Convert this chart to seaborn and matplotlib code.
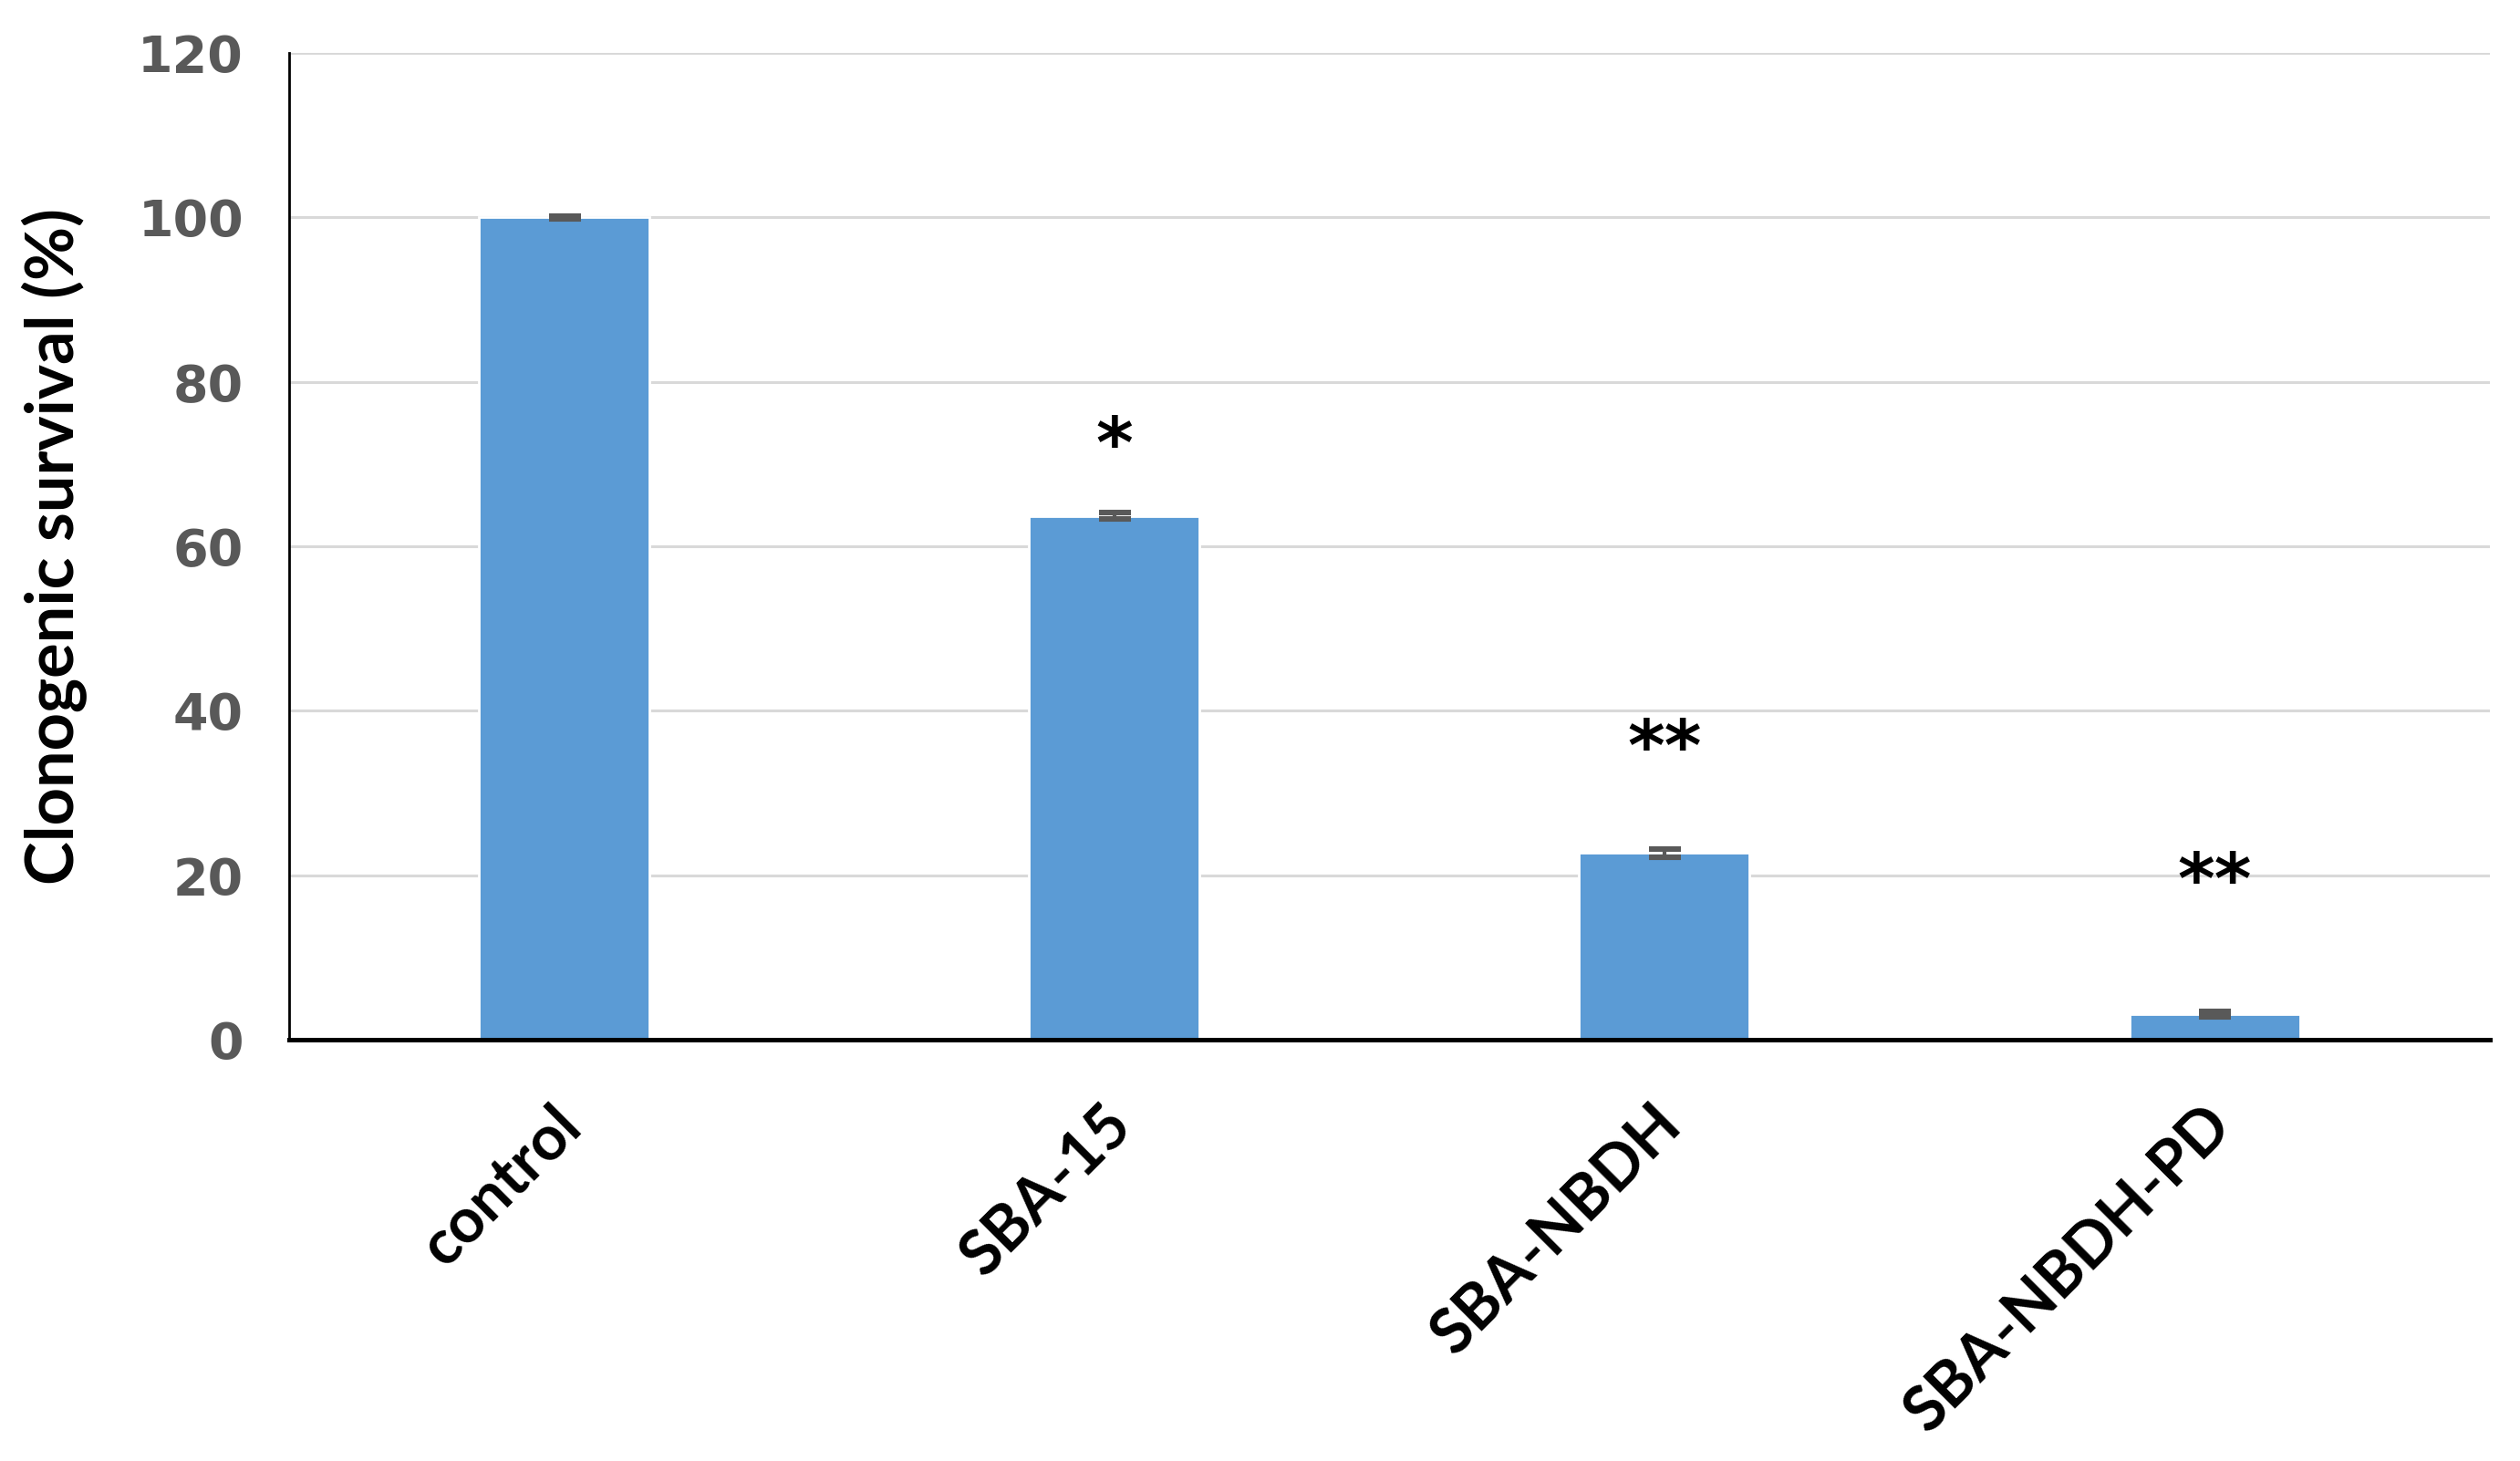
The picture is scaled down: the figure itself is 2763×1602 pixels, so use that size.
import numpy as np
import pandas as pd
import seaborn as sns
import matplotlib.pyplot as plt
from matplotlib.transforms import ScaledTranslation

# Setup
sns.set_theme(style="whitegrid")
plt.rcParams['font.family'] = ['DejaVu Sans']

# Data
categories = ['control', 'SBA-15', 'SBA-NBDH', 'SBA-NBDH-PD']
survival = [100.0, 63.7, 22.7, 3.1]
errors = [0.2, 0.4, 0.5, 0.3]
stars = ['', '*', '**', '**']
star_heights = [None, 74.5, 37.7, 21.4]
y_ticks = [0, 20, 40, 60, 80, 100, 120]

df = pd.DataFrame({'group': categories, 'survival': survival})

bar_color = '#5B9BD5'
grey = '#595959'
label_font = ['Lato', 'DejaVu Sans']

fig = plt.figure(figsize=(13.815, 8.01), dpi=200)
ax = fig.add_axes([0.1147, 0.2884, 0.8733, 0.6754])

sns.barplot(data=df, x='group', y='survival', color=bar_color, width=0.31,
            errorbar=None, saturation=1, ax=ax, zorder=2)

pos = np.arange(len(categories))
ax.errorbar(pos, survival, yerr=errors, fmt='none', ecolor=grey,
            elinewidth=1.5, capsize=6.3, capthick=2.2, zorder=3)

# significance marks
for x, s, h in zip(pos, stars, star_heights):
    if s:
        ax.annotate(s, xy=(x, h), xytext=(0, -16), textcoords='offset points',
                    ha='center', va='baseline', fontsize=28, fontweight='bold',
                    color='black')

ax.set_xlim(-0.5, len(categories) - 0.5)
ax.set_ylim(0, 120)
ax.set_yticks(y_ticks)
ax.set_yticklabels([str(t) for t in y_ticks], fontsize=20, fontweight='bold', color=grey)
ax.set_xticks(pos)
ax.set_xticklabels(categories, rotation=45, ha='right', rotation_mode='anchor',
                   fontsize=24.5, fontweight='bold', family=label_font, color='black')
ax.tick_params(axis='x', length=0, pad=24)
ax.tick_params(axis='y', length=0, pad=18)

# nudge the rotated labels a little to the left
shift = ScaledTranslation(-5 / 72, 2 / 72, fig.dpi_scale_trans)
for lbl in ax.get_xticklabels():
    lbl.set_transform(lbl.get_transform() + shift)

ax.set_xlabel('')
ax.set_ylabel('Clonogenic survival (%)', fontsize=26, fontweight='bold',
              family=label_font, color='black', labelpad=20)

ax.grid(axis='y', color='#d9d9d9', linewidth=1.1)
ax.grid(axis='x', visible=False)
ax.set_axisbelow(True)
for side in ['top', 'right']:
    ax.spines[side].set_visible(False)
ax.spines['bottom'].set_color('black')
ax.spines['bottom'].set_linewidth(1.8)
ax.spines['left'].set_color('black')
ax.spines['left'].set_linewidth(1.0)
ax.set_facecolor('white')

fig.savefig('out.png', dpi=200, facecolor='white')
